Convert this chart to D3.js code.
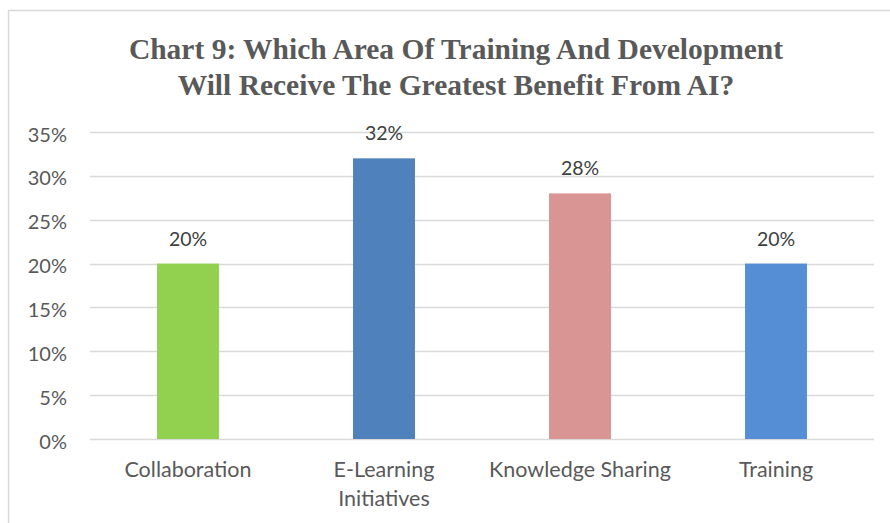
<!DOCTYPE html>
<html>
<head>
<meta charset="utf-8">
<script src="https://cdn.jsdelivr.net/npm/d3@7"></script>
<style>
  html, body { margin: 0; padding: 0; background: #fff; }
  svg { display: block; }
</style>
</head>
<body>
<svg id="chart" width="890" height="523"></svg>
<script>
const categories = [["Collaboration"], ["E-Learning", "Initiatives"], ["Knowledge Sharing"], ["Training"]];
const values = [0.20, 0.32, 0.28, 0.20];
const barColors = ["#92d050", "#4f81bd", "#d99594", "#558ed5"];
const yTicks = [0, 0.05, 0.10, 0.15, 0.20, 0.25, 0.30, 0.35];
const titleLines = ["Chart 9: Which Area Of Training And Development", "Will Receive The Greatest Benefit From AI?"];

const width = 890, height = 523;
const margin = { top: 132, right: 16, bottom: 84, left: 90 };
const labelFont = "Lato, 'Open Sans', 'Liberation Sans', sans-serif";

const svg = d3.select("#chart");

// outer frame (right and bottom edges fall outside the picture)
svg.append("rect")
  .attr("x", 8.5).attr("y", 10.5)
  .attr("width", width).attr("height", height)
  .attr("fill", "none")
  .attr("stroke", "#d9d9d9")
  .attr("stroke-width", 1.5);

// title
svg.append("g")
  .selectAll("text")
  .data(titleLines)
  .join("text")
  .attr("x", 456)
  .attr("y", (d, i) => 59 + i * 36)
  .attr("text-anchor", "middle")
  .attr("font-family", "'Liberation Serif', 'Times New Roman', serif")
  .attr("font-weight", "bold")
  .attr("font-size", 29.5)
  .attr("fill", "#595959")
  .text(d => d);

const x = d3.scaleBand()
  .domain(d3.range(categories.length))
  .range([margin.left, width - margin.right])
  .paddingInner(0.684)
  .paddingOuter(0.342);

const y = d3.scaleLinear()
  .domain([0, 0.35])
  .range([height - margin.bottom, margin.top]);

// gridlines
svg.append("g")
  .selectAll("line")
  .data(yTicks)
  .join("line")
  .attr("x1", margin.left)
  .attr("x2", width - margin.right)
  .attr("y1", d => Math.round(y(d)) + 0.5)
  .attr("y2", d => Math.round(y(d)) + 0.5)
  .attr("stroke", "#d9d9d9")
  .attr("stroke-width", 1.5);

// y axis labels
const yAxis = d3.axisLeft(y)
  .tickValues(yTicks)
  .tickFormat(d3.format(".0%"))
  .tickSize(0)
  .tickPadding(0);

svg.append("g")
  .attr("transform", `translate(${67},0)`)
  .call(yAxis)
  .call(g => g.select(".domain").remove())
  .call(g => g.selectAll("text")
    .attr("dy", "0.45em")
    .attr("font-family", labelFont)
    .attr("font-size", 20)
    .attr("fill", "#595959"));

// bars
svg.append("g")
  .selectAll("rect")
  .data(values)
  .join("rect")
  .attr("x", (d, i) => x(i))
  .attr("y", d => y(d))
  .attr("width", x.bandwidth())
  .attr("height", d => y(0) - y(d))
  .attr("fill", (d, i) => barColors[i]);

// data labels
svg.append("g")
  .selectAll("text")
  .data(values)
  .join("text")
  .attr("x", (d, i) => x(i) + x.bandwidth() / 2)
  .attr("y", d => y(d) - 18)
  .attr("text-anchor", "middle")
  .attr("font-family", labelFont)
  .attr("font-size", 19.5)
  .attr("fill", "#404040")
  .text(d => d3.format(".0%")(d));

// category labels
const cat = svg.append("g")
  .selectAll("text")
  .data(categories)
  .join("text")
  .attr("x", (d, i) => x(i) + x.bandwidth() / 2)
  .attr("y", height - margin.bottom + 38)
  .attr("text-anchor", "middle")
  .attr("font-family", labelFont)
  .attr("font-size", 21.5)
  .attr("fill", "#595959");

cat.selectAll("tspan")
  .data(d => d)
  .join("tspan")
  .attr("x", function() { return d3.select(this.parentNode).attr("x"); })
  .attr("dy", (d, i) => i === 0 ? 0 : 29)
  .text(d => d);
</script>
</body>
</html>
